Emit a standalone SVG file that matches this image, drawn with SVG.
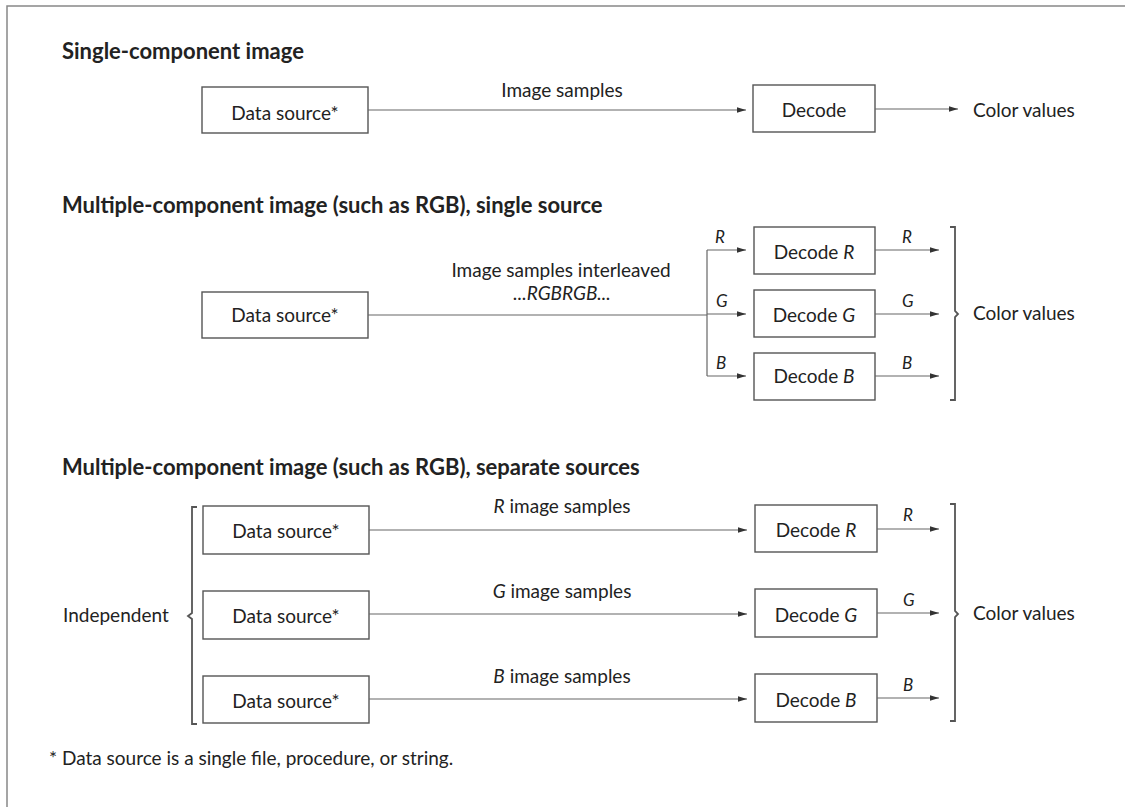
<svg xmlns="http://www.w3.org/2000/svg" width="1132" height="807" viewBox="0 0 1132 807">
<defs>
<marker id="ah" markerWidth="10" markerHeight="8" refX="9" refY="4" orient="auto" markerUnits="userSpaceOnUse">
<path d="M0,1.2 L9,4 L0,6.8 Z" fill="#333"/>
</marker>
<style>
text{font-family:Lato,"Open Sans","Liberation Sans",sans-serif;fill:#222;font-size:19px}
.t{font-weight:bold;font-size:22px}
.c{text-anchor:middle}
.l{font-style:italic;font-size:17px}
.box{fill:#fff;stroke:#555;stroke-width:1.4}
.ln{fill:none;stroke:#666;stroke-width:1.2}
.ar{fill:none;stroke:#666;stroke-width:1.2;marker-end:url(#ah)}
.br{fill:none;stroke:#555;stroke-width:1.8}
.frame{fill:none;stroke:#888;stroke-width:1.5}
</style>
</defs>
<rect width="1132" height="807" fill="#fff"/>
<path class="frame" d="M7,807 L7,6 L1125,6"/>

<!-- Titles -->
<text class="t" x="62" y="59">Single-component image</text>
<text class="t" x="62" y="213">Multiple-component image (such as RGB), single source</text>
<text class="t" x="62" y="475">Multiple-component image (such as RGB), separate sources</text>

<!-- Section 1 -->
<g id="ds1"><rect class="box" x="202" y="87" width="166" height="46"/><text class="c" x="285" y="120">Data source*</text></g>
<g id="dec1"><rect class="box" x="753" y="85" width="122" height="47"/><text class="c" x="814" y="117">Decode</text></g>
<text id="cv1" x="973" y="117">Color values</text>

<!-- Section 2 -->
<g id="ds2"><rect class="box" x="202" y="292" width="166" height="46"/><text class="c" x="285" y="322">Data source*</text></g>
<g id="decR2"><rect class="box" x="754" y="227" width="121" height="47"/><text class="c" x="814" y="259">Decode <tspan font-style="italic">R</tspan></text></g>
<g id="decG2"><rect class="box" x="754" y="290" width="121" height="47"/><text class="c" x="814" y="322">Decode <tspan font-style="italic">G</tspan></text></g>
<g id="decB2"><rect class="box" x="754" y="353" width="121" height="47"/><text class="c" x="814" y="383">Decode <tspan font-style="italic">B</tspan></text></g>
<text id="cv2" x="973" y="320">Color values</text>

<!-- Section 3 -->
<text id="indep" x="63" y="622">Independent</text>
<g id="ds3r"><rect class="box" x="203" y="506" width="166" height="48"/><text class="c" x="286" y="538">Data source*</text></g>
<g id="ds3g"><rect class="box" x="203" y="591" width="166" height="48"/><text class="c" x="286" y="623">Data source*</text></g>
<g id="ds3b"><rect class="box" x="203" y="676" width="166" height="47"/><text class="c" x="286" y="708">Data source*</text></g>
<g id="decR3"><rect class="box" x="755" y="505" width="122" height="47"/><text class="c" x="816" y="537">Decode <tspan font-style="italic">R</tspan></text></g>
<g id="decG3"><rect class="box" x="755" y="589" width="122" height="48"/><text class="c" x="816" y="622">Decode <tspan font-style="italic">G</tspan></text></g>
<g id="decB3"><rect class="box" x="755" y="674" width="122" height="48"/><text class="c" x="816" y="707">Decode <tspan font-style="italic">B</tspan></text></g>
<text id="cv3" x="973" y="620">Color values</text>

<!-- Connectors -->
<g id="connectors">
<line class="ar" x1="368" y1="110" x2="746" y2="110"/>
<text class="c" x="562" y="97">Image samples</text>
<line class="ar" x1="875" y1="109" x2="958" y2="109"/>

<line class="ln" x1="368" y1="315" x2="707" y2="315"/>
<path class="ln" d="M707,250 L707,376"/>
<line class="ar" x1="707" y1="250" x2="746" y2="250"/>
<line class="ar" x1="707" y1="314" x2="746" y2="314"/>
<line class="ar" x1="707" y1="376" x2="746" y2="376"/>
<text class="l" x="715" y="243">R</text>
<text class="l" x="716" y="307">G</text>
<text class="l" x="716" y="369">B</text>
<text class="c" x="561" y="277">Image samples interleaved</text>
<text class="c" x="562" y="300" font-style="italic">...RGBRGB...</text>
<line class="ar" x1="875" y1="250" x2="939" y2="250"/>
<line class="ar" x1="875" y1="314" x2="939" y2="314"/>
<line class="ar" x1="875" y1="376" x2="939" y2="376"/>
<text class="l" x="902" y="243">R</text>
<text class="l" x="902" y="307">G</text>
<text class="l" x="902" y="369">B</text>
<path class="br" d="M950,227 L955,227 L955,311 L958,314 L955,317 L955,400 L950,400"/>

<path class="br" d="M197,507 L192,507 L192,613 L188,616 L192,619 L192,724 L197,724"/>
<line class="ar" x1="369" y1="530" x2="747" y2="530"/>
<line class="ar" x1="369" y1="614" x2="747" y2="614"/>
<line class="ar" x1="369" y1="699" x2="747" y2="699"/>
<text class="c" x="562" y="513"><tspan font-style="italic">R</tspan> image samples</text>
<text class="c" x="562" y="598"><tspan font-style="italic">G</tspan> image samples</text>
<text class="c" x="562" y="683"><tspan font-style="italic">B</tspan> image samples</text>
<line class="ar" x1="877" y1="529" x2="939" y2="529"/>
<line class="ar" x1="877" y1="613" x2="939" y2="613"/>
<line class="ar" x1="877" y1="698" x2="939" y2="698"/>
<text class="l" x="903" y="521">R</text>
<text class="l" x="903" y="606">G</text>
<text class="l" x="903" y="691">B</text>
<path class="br" d="M950,504 L955,504 L955,611 L958,614 L955,617 L955,721 L950,721"/>
</g>

<text id="foot" x="49" y="765" font-size="18.7">* Data source is a single file, procedure, or string.</text>
</svg>
